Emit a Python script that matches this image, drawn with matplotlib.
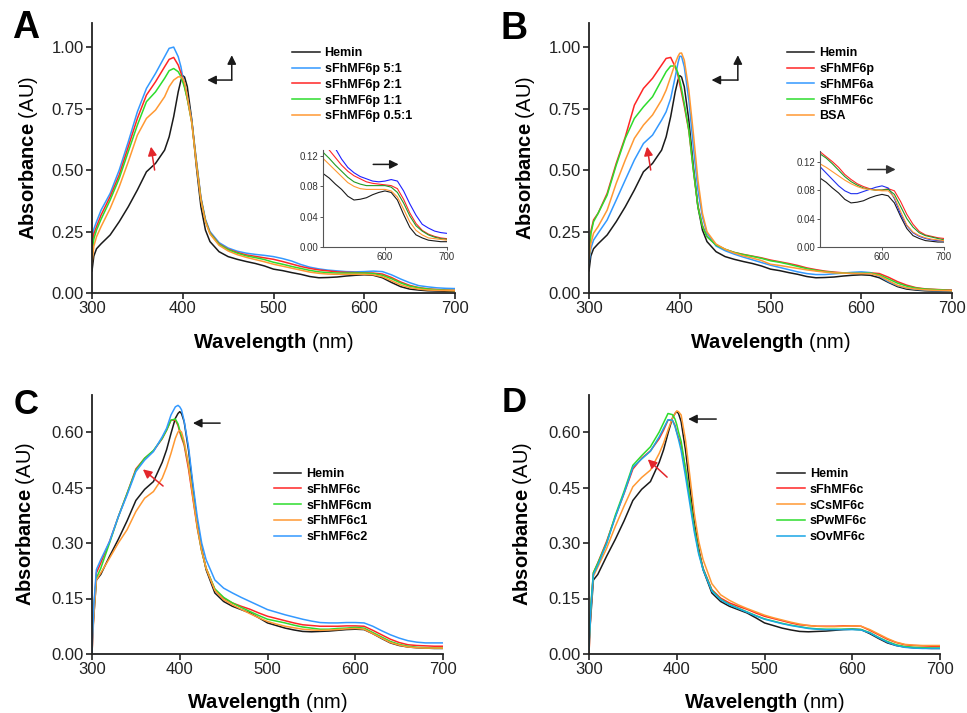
import matplotlib
matplotlib.use("Agg")
import matplotlib.pyplot as plt

plt.rcParams['font.family'] = ['Liberation Sans', 'DejaVu Sans']
plt.rcParams['mathtext.fontset'] = 'custom'
plt.rcParams['mathtext.rm'] = 'Liberation Sans'
plt.rcParams['mathtext.bf'] = 'Liberation Sans:bold'

# wavelengths (nm) shared by every spectrum
wl = [300, 302, 305, 310, 320, 330, 340, 350, 360, 370, 380, 385, 390, 395, 398, 400, 402,
      405, 410, 415, 420, 425, 430, 440, 450, 460, 470, 480, 490, 500, 510, 520,
      530, 540, 550, 560, 570, 580, 590, 600, 610, 620, 630, 640, 650, 660, 670,
      680, 690, 700]

# panel A / B
hemin_ab = [0.09, 0.15, 0.18, 0.20, 0.236, 0.29, 0.351, 0.419, 0.493, 0.527, 0.581, 0.635, 0.717, 0.818, 0.865, 0.884, 0.878,
            0.839, 0.703, 0.514, 0.351, 0.256, 0.209, 0.168, 0.148, 0.137, 0.128, 0.12, 0.11, 0.097, 0.091, 0.083,
            0.076, 0.067, 0.062, 0.063, 0.065, 0.069, 0.072, 0.074, 0.072, 0.062, 0.043, 0.026, 0.016, 0.012, 0.009,
            0.008, 0.007, 0.007]
p_5_1 = [0.19, 0.26, 0.29, 0.337, 0.405, 0.50, 0.615, 0.737, 0.832, 0.893, 0.961, 0.995, 1.0, 0.961, 0.92, 0.879, 0.85,
         0.80, 0.70, 0.54, 0.39, 0.30, 0.25, 0.205, 0.183, 0.17, 0.162, 0.157, 0.153, 0.148, 0.14, 0.13,
         0.116, 0.105, 0.098, 0.093, 0.09, 0.087, 0.086, 0.087, 0.089, 0.087, 0.074, 0.057, 0.042, 0.03, 0.025,
         0.021, 0.019, 0.018]
p_2_1 = [0.16, 0.24, 0.27, 0.317, 0.392, 0.48, 0.595, 0.71, 0.805, 0.859, 0.92, 0.95, 0.958, 0.927, 0.895, 0.866, 0.84,
         0.79, 0.696, 0.535, 0.385, 0.295, 0.245, 0.2, 0.178, 0.165, 0.155, 0.149, 0.143, 0.137, 0.128, 0.118,
         0.108, 0.1, 0.094, 0.09, 0.086, 0.084, 0.083, 0.082, 0.081, 0.077, 0.063, 0.045, 0.031, 0.022, 0.017,
         0.014, 0.012, 0.011]
p_1_1 = [0.14, 0.22, 0.256, 0.30, 0.378, 0.466, 0.575, 0.683, 0.778, 0.818, 0.873, 0.904, 0.913, 0.90, 0.88, 0.859, 0.835,
         0.79, 0.692, 0.53, 0.382, 0.293, 0.243, 0.198, 0.176, 0.162, 0.151, 0.144, 0.136, 0.125, 0.117, 0.108,
         0.1, 0.092, 0.086, 0.083, 0.081, 0.081, 0.081, 0.081, 0.079, 0.072, 0.058, 0.041, 0.028, 0.021, 0.016,
         0.013, 0.011, 0.01]
p_05_1 = [0.12, 0.19, 0.229, 0.27, 0.344, 0.432, 0.534, 0.642, 0.71, 0.744, 0.798, 0.839, 0.866, 0.879, 0.879, 0.873, 0.855,
          0.80, 0.69, 0.525, 0.378, 0.29, 0.24, 0.194, 0.171, 0.156, 0.145, 0.136, 0.127, 0.117, 0.109, 0.101,
          0.093, 0.085, 0.08, 0.077, 0.076, 0.076, 0.076, 0.076, 0.074, 0.066, 0.05, 0.033, 0.022, 0.016, 0.012,
          0.011, 0.01, 0.009]
fh6p = [0.15, 0.25, 0.297, 0.324, 0.405, 0.527, 0.635, 0.764, 0.832, 0.873, 0.927, 0.954, 0.958, 0.92, 0.885, 0.85, 0.815,
        0.76, 0.66, 0.50, 0.355, 0.275, 0.23, 0.195, 0.177, 0.165, 0.157, 0.15, 0.143, 0.134, 0.127, 0.12,
        0.112, 0.102, 0.095, 0.089, 0.085, 0.082, 0.080, 0.080, 0.082, 0.079, 0.064, 0.046, 0.032, 0.022, 0.017,
        0.015, 0.013, 0.012]
fh6a = [0.12, 0.18, 0.215, 0.243, 0.297, 0.378, 0.46, 0.541, 0.608, 0.642, 0.703, 0.737, 0.791, 0.879, 0.935, 0.963, 0.962,
        0.92, 0.785, 0.595, 0.419, 0.31, 0.243, 0.191, 0.172, 0.158, 0.146, 0.135, 0.124, 0.113, 0.104, 0.095,
        0.086, 0.079, 0.075, 0.075, 0.078, 0.081, 0.084, 0.086, 0.083, 0.068, 0.046, 0.03, 0.02, 0.015, 0.012,
        0.01, 0.009, 0.009]
fh6c_b = [0.14, 0.24, 0.29, 0.324, 0.398, 0.52, 0.629, 0.71, 0.757, 0.798, 0.866, 0.90, 0.923, 0.923, 0.895, 0.866, 0.83,
          0.77, 0.663, 0.5, 0.351, 0.27, 0.229, 0.195, 0.178, 0.165, 0.156, 0.149, 0.141, 0.131, 0.125, 0.117,
          0.108, 0.099, 0.092, 0.087, 0.083, 0.081, 0.080, 0.080, 0.081, 0.074, 0.057, 0.04, 0.028, 0.02, 0.016,
          0.014, 0.012, 0.01]
bsa = [0.14, 0.2, 0.243, 0.27, 0.337, 0.446, 0.541, 0.629, 0.683, 0.724, 0.785, 0.825, 0.879, 0.934, 0.962, 0.975, 0.976,
       0.947, 0.825, 0.649, 0.46, 0.324, 0.249, 0.199, 0.178, 0.163, 0.151, 0.142, 0.132, 0.117, 0.112, 0.106,
       0.1, 0.094, 0.089, 0.085, 0.082, 0.081, 0.08, 0.079, 0.079, 0.07, 0.05, 0.031, 0.021, 0.016, 0.013,
       0.011, 0.01, 0.009]

# panel C / D
hemin_cd = [0.03, 0.1, 0.2, 0.215, 0.264, 0.31, 0.36, 0.415, 0.445, 0.466, 0.518, 0.552, 0.596, 0.637, 0.65, 0.655, 0.65,
            0.628, 0.551, 0.45, 0.355, 0.285, 0.228, 0.165, 0.142, 0.129, 0.12, 0.111, 0.098, 0.084, 0.077, 0.07,
            0.065, 0.061, 0.06, 0.061, 0.062, 0.064, 0.066, 0.067, 0.066, 0.055, 0.042, 0.030, 0.023, 0.019, 0.017,
            0.016, 0.015, 0.015]
fh6c = [0.0, 0.12, 0.219, 0.246, 0.304, 0.371, 0.434, 0.5, 0.529, 0.549, 0.582, 0.605, 0.632, 0.632, 0.618, 0.6, 0.585,
        0.565, 0.5, 0.42, 0.34, 0.278, 0.232, 0.174, 0.151, 0.138, 0.129, 0.121, 0.111, 0.102, 0.096, 0.09,
        0.084, 0.079, 0.077, 0.075, 0.075, 0.075, 0.076, 0.076, 0.075, 0.064, 0.052, 0.04, 0.031, 0.025, 0.023,
        0.022, 0.021, 0.021]
fh6cm = [0.04, 0.12, 0.205, 0.232, 0.30, 0.371, 0.434, 0.497, 0.529, 0.55, 0.583, 0.605, 0.632, 0.635, 0.622, 0.605, 0.59,
         0.57, 0.51, 0.43, 0.345, 0.278, 0.232, 0.176, 0.153, 0.138, 0.126, 0.115, 0.104, 0.094, 0.089, 0.084,
         0.078, 0.073, 0.07, 0.067, 0.067, 0.069, 0.07, 0.072, 0.07, 0.058, 0.046, 0.034, 0.026, 0.021, 0.018,
         0.017, 0.016, 0.016]
fh6c1 = [0.0, 0.1, 0.2, 0.219, 0.259, 0.30, 0.336, 0.385, 0.421, 0.439, 0.475, 0.505, 0.542, 0.583, 0.6, 0.604, 0.6,
         0.575, 0.51, 0.425, 0.345, 0.28, 0.232, 0.172, 0.147, 0.133, 0.121, 0.109, 0.098, 0.088, 0.081, 0.075,
         0.071, 0.067, 0.065, 0.064, 0.065, 0.066, 0.068, 0.069, 0.067, 0.055, 0.043, 0.031, 0.024, 0.019, 0.017,
         0.016, 0.016, 0.016]
fh6c2 = [0.0, 0.13, 0.228, 0.255, 0.304, 0.371, 0.43, 0.493, 0.524, 0.547, 0.587, 0.61, 0.646, 0.668, 0.672, 0.668, 0.66,
         0.63, 0.56, 0.46, 0.37, 0.30, 0.255, 0.20, 0.178, 0.165, 0.153, 0.142, 0.131, 0.12, 0.113, 0.106,
         0.1, 0.094, 0.089, 0.085, 0.084, 0.084, 0.085, 0.085, 0.084, 0.075, 0.063, 0.052, 0.043, 0.036, 0.032,
         0.03, 0.03, 0.03]
cs6c = [0.0, 0.12, 0.21, 0.235, 0.285, 0.345, 0.40, 0.452, 0.477, 0.497, 0.542, 0.57, 0.605, 0.637, 0.65, 0.657, 0.655,
        0.646, 0.578, 0.48, 0.38, 0.305, 0.255, 0.19, 0.16, 0.145, 0.133, 0.123, 0.114, 0.105, 0.098, 0.092,
        0.086, 0.081, 0.077, 0.075, 0.074, 0.074, 0.075, 0.076, 0.075, 0.066, 0.054, 0.042, 0.032, 0.026, 0.024,
        0.023, 0.023, 0.023]
pw6c = [0.03, 0.13, 0.22, 0.245, 0.30, 0.375, 0.44, 0.51, 0.536, 0.56, 0.60, 0.625, 0.65, 0.647, 0.635, 0.62, 0.60,
        0.575, 0.50, 0.42, 0.34, 0.275, 0.23, 0.172, 0.148, 0.134, 0.124, 0.114, 0.104, 0.095, 0.089, 0.083,
        0.078, 0.074, 0.07, 0.068, 0.067, 0.067, 0.067, 0.067, 0.066, 0.058, 0.045, 0.034, 0.025, 0.02, 0.018,
        0.017, 0.016, 0.016]
ov6c = [0.01, 0.12, 0.215, 0.24, 0.298, 0.37, 0.435, 0.505, 0.527, 0.548, 0.587, 0.61, 0.633, 0.632, 0.615, 0.598, 0.58,
        0.55, 0.48, 0.405, 0.33, 0.27, 0.228, 0.17, 0.147, 0.133, 0.123, 0.113, 0.103, 0.094, 0.088, 0.082,
        0.077, 0.073, 0.069, 0.067, 0.066, 0.066, 0.066, 0.066, 0.065, 0.057, 0.044, 0.032, 0.023, 0.018, 0.016,
        0.015, 0.015, 0.015]

BLACK = '#1a1a1a'
BLUE = '#3399ff'
RED = '#ff2626'
GREEN = '#2ddc2d'
ORANGE = '#ff9933'
CYAN = '#1aa6e6'
ARROW_RED = '#e3262b'

series_a = [(hemin_ab, BLACK, 'Hemin'), (p_5_1, BLUE, 'sFhMF6p 5:1'), (p_2_1, RED, 'sFhMF6p 2:1'),
            (p_1_1, GREEN, 'sFhMF6p 1:1'), (p_05_1, ORANGE, 'sFhMF6p 0.5:1')]
series_b = [(hemin_ab, BLACK, 'Hemin'), (fh6p, RED, 'sFhMF6p'), (fh6a, BLUE, 'sFhMF6a'),
            (fh6c_b, GREEN, 'sFhMF6c'), (bsa, ORANGE, 'BSA')]
series_c = [(hemin_cd, BLACK, 'Hemin'), (fh6c, RED, 'sFhMF6c'), (fh6cm, GREEN, 'sFhMF6cm'),
            (fh6c1, ORANGE, 'sFhMF6c1'), (fh6c2, BLUE, 'sFhMF6c2')]
series_d = [(hemin_cd, BLACK, 'Hemin'), (fh6c, RED, 'sFhMF6c'), (cs6c, ORANGE, 'sCsMF6c'),
            (pw6c, GREEN, 'sPwMF6c'), (ov6c, CYAN, 'sOvMF6c')]
# darker tones used in the insets
inset_colors_a = [BLACK, '#1f1fff', RED, '#229922', ORANGE]
inset_colors_b = [BLACK, RED, '#1f2fee', '#229922', ORANGE]

fig = plt.figure(figsize=(9.67, 7.13), dpi=100)


def arrow(ax, tail, head, color):
    ax.annotate('', xy=head, xytext=tail,
                arrowprops=dict(arrowstyle='-|>', color=color, lw=1.1,
                                mutation_scale=13, shrinkA=0, shrinkB=0))


def main_panel(rect, series, ylim, yticks, legend_xy, letter, letter_xy, letter_size, ylab_x):
    ax = fig.add_axes(rect)
    for y, c, lab in series:
        ax.plot(wl, y, color=c, lw=1.1, label=lab)
    ax.set_xlim(300, 700)
    ax.set_ylim(*ylim)
    ax.set_xticks([300, 400, 500, 600, 700])
    ax.set_yticks(yticks)
    ax.set_yticklabels(['%.2f' % t for t in yticks])
    for s in ['top', 'right']:
        ax.spines[s].set_visible(False)
    for s in ['left', 'bottom']:
        ax.spines[s].set_linewidth(1.3)
        ax.spines[s].set_color('#222222')
    ax.tick_params(direction='out', length=4, width=1.2, labelsize=12, pad=2, colors='#222222')
    ax.set_xlabel(r'$\mathbf{Wavelength}$ (nm)', fontsize=14.5)
    ax.set_ylabel(r'$\mathbf{Absorbance}$ (AU)', fontsize=14.5)
    ax.xaxis.set_label_coords(0.5, -0.142)
    ax.yaxis.set_label_coords(ylab_x, 0.5)
    ax.legend(loc='upper left', bbox_to_anchor=legend_xy, frameon=False,
              prop={'weight': 'bold', 'size': 9}, handlelength=2.2, handletextpad=0.4,
              labelspacing=0.3, borderpad=0, borderaxespad=0)
    fig.text(letter_xy[0], letter_xy[1], letter, fontsize=letter_size, fontweight='bold',
             ha='center', va='center')
    return ax


def inset(rect, series, colors, ylim):
    ax = fig.add_axes(rect)
    for (y, c0, lab), c in zip(series, colors):
        ax.plot(wl, y, color=c, lw=0.8)
    ax.set_xlim(500, 700)
    ax.set_ylim(*ylim)
    ax.set_xticks([600, 700])
    ax.set_yticks([0.0, 0.04, 0.08, 0.12])
    ax.set_yticklabels(['0.00', '0.04', '0.08', '0.12'])
    for s in ['top', 'right']:
        ax.spines[s].set_visible(False)
    for s in ['left', 'bottom']:
        ax.spines[s].set_linewidth(0.8)
        ax.spines[s].set_color('#555555')
    ax.tick_params(direction='out', length=2, width=0.7, labelsize=7, pad=1.5,
                   colors='#555555', labelcolor='#333333')
    ax.patch.set_alpha(0)
    return ax


W, H = 967.0, 713.0
yt_ab = [0.0, 0.25, 0.5, 0.75, 1.0]
yt_cd = [0.0, 0.15, 0.30, 0.45, 0.60]

ax_a = main_panel([92 / W, 1 - 293 / H, 363 / W, 270 / H], series_a, (0, 1.098), yt_ab,
                  (0.551, 0.910), 'A', (26 / W, 1 - 28 / H), 27, -0.143)
ax_b = main_panel([589 / W, 1 - 293 / H, 363 / W, 270 / H], series_b, (0, 1.098), yt_ab,
                  (0.545, 0.910), 'B', (514 / W, 1 - 29 / H), 27, -0.143)
ax_c = main_panel([92 / W, 1 - 654 / H, 351 / W, 259 / H], series_c, (0, 0.70), yt_cd,
                  (0.518, 0.718), 'C', (26 / W, 1 - 404 / H), 25, -0.157)
ax_d = main_panel([589 / W, 1 - 654 / H, 351 / W, 259 / H], series_d, (0, 0.70), yt_cd,
                  (0.536, 0.718), 'D', (514 / W, 1 - 403 / H), 25, -0.157)

# arrows in the main panels
arrow(ax_a, (454, 0.866), (427, 0.866), BLACK)
arrow(ax_a, (454, 0.866), (454, 0.967), BLACK)
arrow(ax_a, (369, 0.50), (365, 0.595), ARROW_RED)
arrow(ax_b, (464, 0.866), (435, 0.866), BLACK)
arrow(ax_b, (464, 0.866), (464, 0.967), BLACK)
arrow(ax_b, (368, 0.50), (364, 0.595), ARROW_RED)
arrow(ax_c, (446, 0.624), (415, 0.624), BLACK)
arrow(ax_c, (381, 0.454), (358, 0.499), ARROW_RED)
arrow(ax_d, (445, 0.635), (413, 0.635), BLACK)
arrow(ax_d, (389, 0.478), (367, 0.526), ARROW_RED)

in_a = inset([323 / W, 1 - 247 / H, 124 / W, 97 / H], series_a, inset_colors_a, (0, 0.128))
in_b = inset([820 / W, 1 - 247 / H, 124 / W, 96 / H], series_b, inset_colors_b, (0, 0.135))
arrow(in_a, (581, 0.109), (622, 0.109), BLACK)
arrow(in_b, (577, 0.109), (622, 0.109), '#333333')

fig.savefig('out.png', dpi=100)
